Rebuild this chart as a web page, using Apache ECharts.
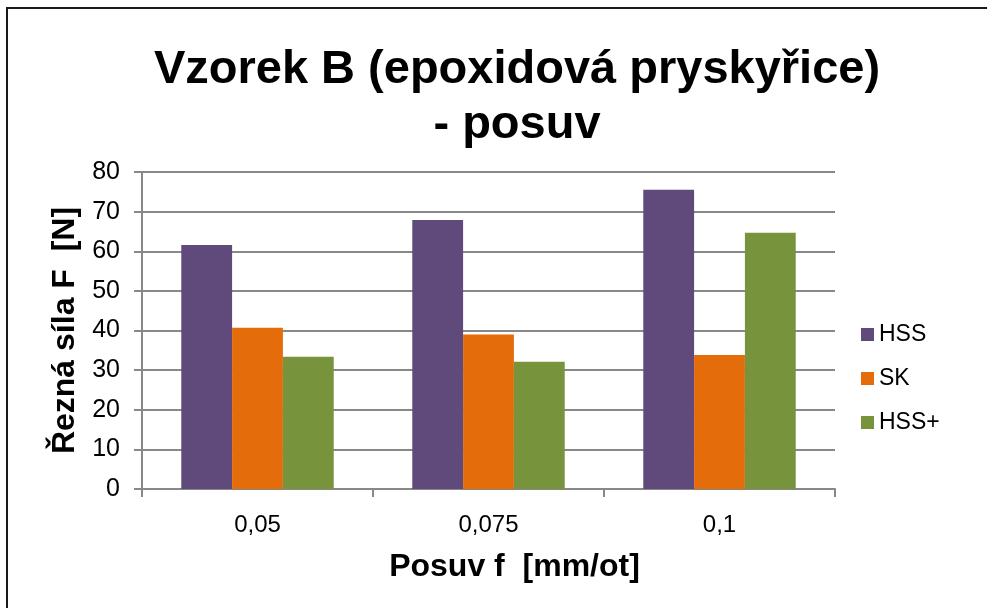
<!DOCTYPE html>
<html>
<head>
<meta charset="utf-8">
<script src="https://cdn.jsdelivr.net/npm/echarts@6/dist/echarts.min.js"></script>
<style>
  html, body { margin: 0; padding: 0; background: #fff; }
  #main { width: 987px; height: 608px; }
</style>
</head>
<body>
<div id="main"></div>
<script>
// posuv f [mm/ot]
const categories = ['0,05', '0,075', '0,1'];
const hss = [61.6, 67.9, 75.5];
const sk = [40.7, 39.0, 33.8];
const hssPlus = [33.4, 32.1, 64.7];
const seriesNames = ['HSS', 'SK', 'HSS+'];
const colors = ['#604A7B', '#E46C0A', '#77933C'];

const font = '"Liberation Sans", Arial, sans-serif';

let chart = echarts.init(document.getElementById('main'));

let option = {
    color: colors,
    animation: false,
    textStyle: { fontFamily: font },
    title: {
        text: 'Vzorek B (epoxidová pryskyřice)\n- posuv',
        left: 512,
        textAlign: 'center',
        top: 38,
        textStyle: {
            fontFamily: font,
            fontSize: 47,
            fontWeight: 'bold',
            color: '#000',
            lineHeight: 55
        }
    },
    legend: {
        orient: 'vertical',
        left: 856,
        top: 318,
        itemWidth: 13,
        itemHeight: 13,
        itemGap: 21,
        itemTextGap: 8,
        icon: 'rect',
        textStyle: { fontFamily: font, fontSize: 23, color: '#000' },
        data: seriesNames
    },
    grid: {
        left: 142,
        right: 152,
        top: 172,
        bottom: 119
    },
    xAxis: {
        type: 'category',
        data: categories,
        name: 'Posuv f  [mm/ot]',
        nameLocation: 'middle',
        nameGap: 62,
        nameTextStyle: {
            fontFamily: font, fontSize: 32, fontWeight: 'bold', color: '#000',
            padding: [0, 0, 0, 52]
        },
        axisLine: { lineStyle: { color: '#888', width: 2 } },
        axisTick: { show: true, length: 8, lineStyle: { color: '#888', width: 2 } },
        axisLabel: { fontFamily: font, fontSize: 24, color: '#000', margin: 24 }
    },
    yAxis: {
        type: 'value',
        min: 0,
        max: 80,
        interval: 10,
        name: 'Řezná síla F  [N]',
        nameLocation: 'middle',
        nameGap: 57,
        nameTextStyle: { fontFamily: font, fontSize: 32, fontWeight: 'bold', color: '#000' },
        axisLine: { show: true, lineStyle: { color: '#888', width: 2 } },
        axisTick: { show: true, length: 8, lineStyle: { color: '#888', width: 2 } },
        axisLabel: { fontFamily: font, fontSize: 25, color: '#000', margin: 22 },
        splitLine: { lineStyle: { color: '#888', width: 2 } }
    },
    series: [
        { name: seriesNames[0], type: 'bar', data: hss, barGap: '0%', barCategoryGap: '34%' },
        { name: seriesNames[1], type: 'bar', data: sk },
        { name: seriesNames[2], type: 'bar', data: hssPlus }
    ],
    graphic: [
        {
            type: 'rect',
            shape: { x: 7, y: 8, width: 1000, height: 700 },
            style: { fill: 'none', stroke: '#1a1a1a', lineWidth: 2 },
            silent: true
        }
    ]
};

chart.setOption(option);
</script>
</body>
</html>
